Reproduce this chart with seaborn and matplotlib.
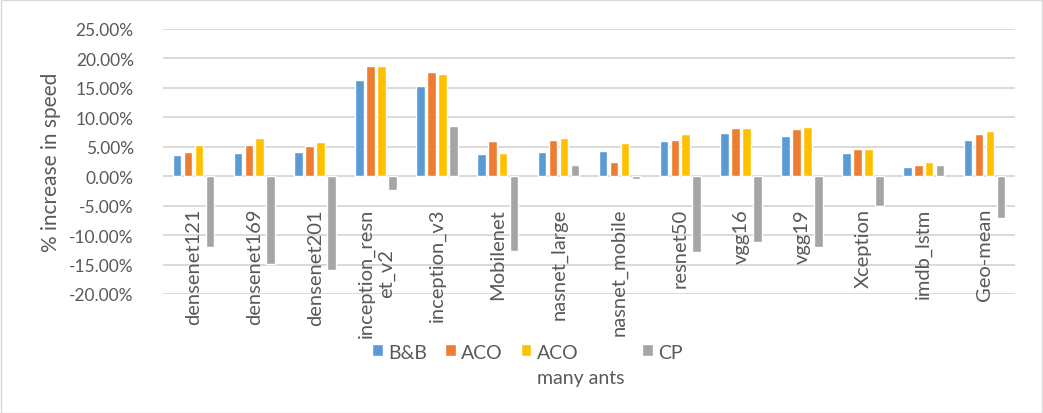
import matplotlib
matplotlib.use("Agg")
import matplotlib.pyplot as plt
import seaborn as sns
import pandas as pd
from matplotlib.patches import Rectangle
from matplotlib.ticker import FuncFormatter, MultipleLocator

models = ["densenet121", "densenet169", "densenet201", "inception_resn\net_v2",
          "inception_v3", "Mobilenet", "nasnet_large", "nasnet_mobile", "resnet50",
          "vgg16", "vgg19", "Xception", "imdb_lstm", "Geo-mean"]
series_names = ["B&B", "ACO", "ACO\nmany ants", "CP"]

bb = [3.6, 3.9, 4.1, 16.3, 15.4, 3.7, 4.1, 4.3, 6.0, 7.3, 6.8, 3.95, 1.65, 6.1]
aco = [4.1, 5.35, 5.1, 18.75, 17.7, 5.9, 6.1, 2.5, 6.15, 8.2, 8.0, 4.7, 1.85, 7.2]
aco_many = [5.35, 6.55, 5.8, 18.75, 17.3, 3.95, 6.55, 5.7, 7.1, 8.2, 8.4, 4.7, 2.5, 7.7]
cp = [-12.1, -14.9, -16.0, -2.4, 8.5, -12.7, 1.9, -0.55, -12.9, -11.2, -12.0, -5.1, 1.85, -7.05]

colors = ["#5B9BD5", "#ED7D31", "#FFC000", "#A5A5A5"]

rows = []
for name, vals in zip(series_names, [bb, aco, aco_many, cp]):
    for m, v in zip(models, vals):
        rows.append({"model": m, "series": name, "value": v})
df = pd.DataFrame(rows)

sns.set_theme(style="white")
plt.rcParams["font.family"] = ["Lato", "DejaVu Sans"]
text_color = "#595959"
grid_color = "#D9D9D9"

fig = plt.figure(figsize=(10.43, 4.14), dpi=100)
ax = fig.add_axes([163 / 1043, 1 - 295 / 414, (1015 - 163) / 1043, (295 - 30) / 414])

sns.barplot(data=df, x="model", y="value", hue="series", hue_order=series_names,
            order=models, palette=colors, width=0.72, gap=0.22, saturation=1,
            ax=ax, legend=True)

ax.set_ylim(-20, 25)
ax.set_xlim(-0.5, len(models) - 0.5)
ax.yaxis.set_major_locator(MultipleLocator(5))
ax.yaxis.set_major_formatter(FuncFormatter(lambda v, p: f"{v:.2f}%"))
ax.grid(axis="y", color=grid_color, linewidth=1.4)
ax.set_axisbelow(True)
ax.xaxis.set_zorder(3)
for s in ax.spines.values():
    s.set_visible(False)

ax.tick_params(axis="y", length=0, pad=21, labelsize=12.5, labelcolor=text_color)
ax.tick_params(axis="x", length=0, pad=-62, labelsize=14.5, labelcolor=text_color)
for lbl in ax.get_xticklabels():
    lbl.set_rotation(90)
    lbl.set_multialignment("center")

ax.set_xlabel("")
ax.set_ylabel("% increase in speed", fontsize=15, color=text_color, labelpad=6)

leg = ax.legend(loc="upper left", bbox_to_anchor=((372 - 163) / 852, (295 - 345) / 265),
                ncol=4, frameon=False, fontsize=14, handlelength=0.55, handleheight=0.55,
                handletextpad=0.3, columnspacing=0.9, labelcolor=text_color,
                borderpad=0, borderaxespad=0)
for t in leg.get_texts():
    t.set_linespacing(1.55)
# keep each swatch level with the first line of its label
legend_box = leg._legend_handle_box
legend_box.align = "top"
for column in legend_box.get_children():
    for item in column.get_children():
        item.align = "top"

fig.patches.append(Rectangle((0.5 / 1043, 0.5 / 414), 1 - 1.5 / 1043, 1 - 1.5 / 414,
                             transform=fig.transFigure, fill=False,
                             edgecolor=grid_color, linewidth=1))

fig.savefig("out.png", dpi=100, facecolor="white")
